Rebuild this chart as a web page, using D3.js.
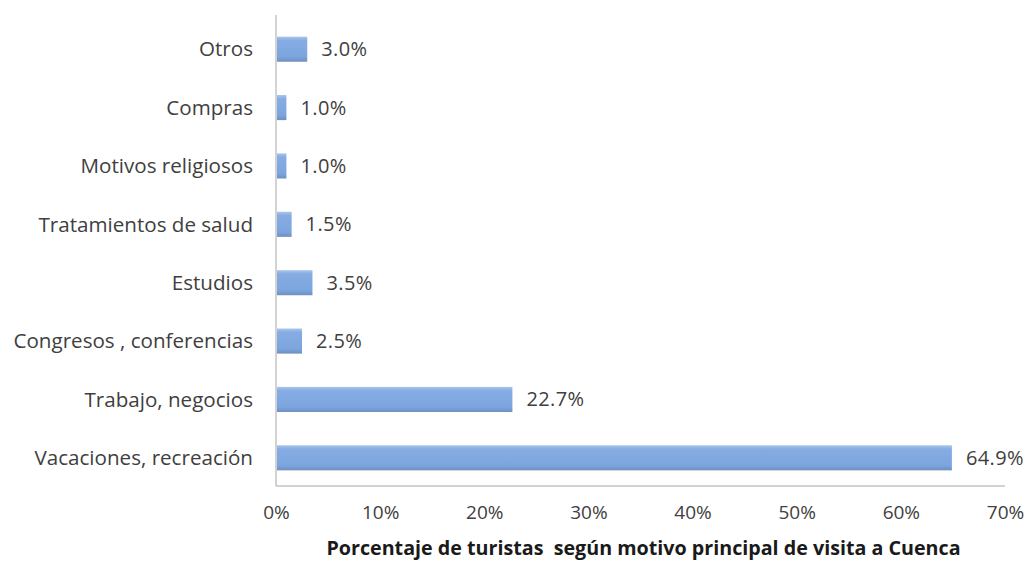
<!DOCTYPE html>
<html>
<head>
<meta charset="utf-8">
<script src="https://cdn.jsdelivr.net/npm/d3@7"></script>
<style>
  body { margin: 0; background: #fff; }
  svg { display: block; }
</style>
</head>
<body>
<svg id="chart" width="1029" height="565"></svg>
<script>
// categories, top to bottom as in the picture
const categories = [
    "Otros",
    "Compras",
    "Motivos religiosos",
    "Tratamientos de salud",
    "Estudios",
    "Congresos , conferencias",
    "Trabajo, negocios",
    "Vacaciones, recreación"
];
const values = [3.0, 1.0, 1.0, 1.5, 3.5, 2.5, 22.7, 64.9];
const tickValues = [0, 10, 20, 30, 40, 50, 60, 70];
const axisTitle = "Porcentaje de turistas  según motivo principal de visita a Cuenca";

const data = categories.map((c, i) => ({ name: c, value: values[i] }));

const svg = d3.select("#chart");
const font = "'Open Sans', sans-serif";

const x = d3.scaleLinear().domain([0, 70]).range([276, 1005]);
const y = d3.scaleBand().domain(categories).range([20, 487]).paddingInner(0.57).paddingOuter(0.285);

// bar gradient (slight bevel look)
const defs = svg.append("defs");
const grad = defs.append("linearGradient")
    .attr("id", "barGrad")
    .attr("x1", 0).attr("y1", 0).attr("x2", 0).attr("y2", 1);
grad.append("stop").attr("offset", "0%").attr("stop-color", "#a9c6ee");
grad.append("stop").attr("offset", "15%").attr("stop-color", "#86ace2");
grad.append("stop").attr("offset", "80%").attr("stop-color", "#7ca5df");
grad.append("stop").attr("offset", "100%").attr("stop-color", "#6f8fbf");

// axis lines
svg.append("line")
    .attr("x1", x(0)).attr("x2", x(0))
    .attr("y1", 15).attr("y2", 486)
    .attr("stroke", "#a6a6a6").attr("stroke-width", 1);
svg.append("line")
    .attr("x1", x(0)).attr("x2", x(70))
    .attr("y1", 486).attr("y2", 486)
    .attr("stroke", "#a6a6a6").attr("stroke-width", 1);

// bars
svg.append("g")
    .selectAll("rect")
    .data(data)
    .join("rect")
    .attr("x", x(0) + 1)
    .attr("y", d => y(d.name))
    .attr("width", d => x(d.value) - x(0) - 1)
    .attr("height", y.bandwidth())
    .attr("fill", "url(#barGrad)");

// category labels
svg.append("g")
    .selectAll("text")
    .data(data)
    .join("text")
    .attr("x", 253)
    .attr("y", d => y(d.name) + y.bandwidth() / 2)
    .attr("dy", "0.35em")
    .attr("text-anchor", "end")
    .style("font", `20.6px ${font}`)
    .attr("fill", "#404040")
    .text(d => d.name);

// value labels
svg.append("g")
    .selectAll("text")
    .data(data)
    .join("text")
    .attr("x", d => x(d.value) + 14)
    .attr("y", d => y(d.name) + y.bandwidth() / 2)
    .attr("dy", "0.35em")
    .style("font", `20px ${font}`)
    .style("letter-spacing", "0.4px")
    .attr("fill", "#404040")
    .text(d => d.value.toFixed(1) + "%");

// x axis ticks
const xAxis = d3.axisBottom(x)
    .tickValues(tickValues)
    .tickSize(0)
    .tickPadding(0)
    .tickFormat(d => d + "%");
const gx = svg.append("g")
    .attr("transform", "translate(0,505)")
    .call(xAxis);
gx.select(".domain").remove();
gx.selectAll("text")
    .style("font", `19px ${font}`)
    .attr("fill", "#404040");

// axis title
svg.append("text")
    .attr("x", (x(0) + x(70)) / 2 + 3)
    .attr("y", 555)
    .attr("text-anchor", "middle")
    .style("font", `bold 19.7px ${font}`)
    .style("white-space", "pre")
    .attr("fill", "#1a1a1a")
    .text(axisTitle);
</script>
</body>
</html>
